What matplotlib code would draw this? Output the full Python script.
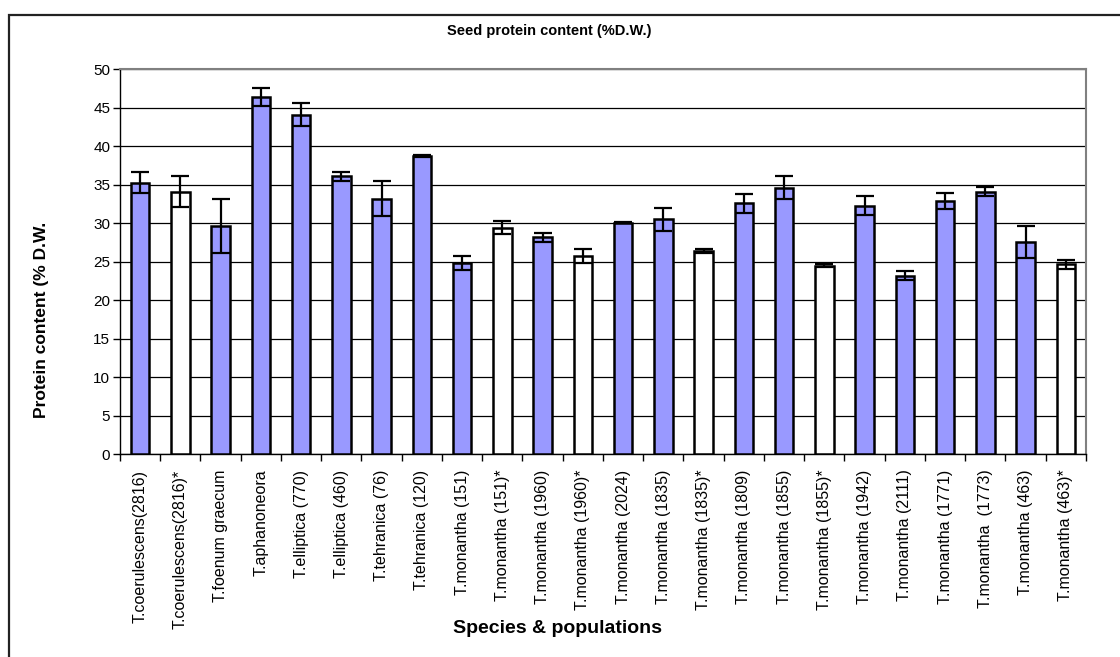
import matplotlib
matplotlib.use("Agg")
import matplotlib.pyplot as plt
from matplotlib.patches import Rectangle

plt.rcParams['font.family'] = ['Liberation Sans', 'DejaVu Sans']

labels = ["T.coerulescens(2816)", "T.coerulescens(2816)*", "T.foenum graecum",
          "T.aphanoneora", "T.elliptica (770)", "T.elliptica (460)",
          "T.tehranica (76)", "T.tehranica (120)", "T.monantha (151)",
          "T.monantha (151)*", "T.monantha (1960)", "T.monantha (1960)*",
          "T.monantha (2024)", "T.monantha (1835)", "T.monantha (1835)*",
          "T.monantha (1809)", "T.monantha (1855)", "T.monantha (1855)*",
          "T.monantha (1942)", "T.monantha (2111)", "T.monantha (1771)",
          "T.monantha  (1773)", "T.monantha (463)", "T.monantha (463)*"]
protein = [35.3, 34.1, 29.7, 46.4, 44.1, 36.1, 33.2, 38.7, 24.9, 29.4, 28.2, 25.8,
           30.1, 30.5, 26.4, 32.6, 34.6, 24.5, 32.3, 23.2, 32.9, 34.1, 27.6, 24.7]
stderr = [1.4, 2.0, 3.5, 1.2, 1.5, 0.6, 2.3, 0.15, 0.9, 0.85, 0.6, 0.9,
          0.1, 1.5, 0.3, 1.2, 1.5, 0.2, 1.2, 0.6, 1.1, 0.6, 2.1, 0.6]
yticks = list(range(0, 51, 5))

BLUE = "#9999FF"
colors = ["white" if lab.endswith("*") else BLUE for lab in labels]
x = list(range(len(labels)))

fig = plt.figure(figsize=(11.2, 6.57), dpi=100)
fig.patches.append(Rectangle((0.008, -0.2), 1.2, 0.977 + 0.2, transform=fig.transFigure,
                             fill=False, ec="#222222", lw=1.6, zorder=0))

ax = fig.add_axes([0.1071, 0.3085, 0.8625, 0.586])
ax.bar(x, protein, width=0.46, color=colors, edgecolor="black", linewidth=1.8, zorder=3)
ax.errorbar(x, protein, yerr=stderr, fmt="none", ecolor="black", elinewidth=1.6,
            capsize=6.8, capthick=1.6, zorder=4)

ax.set_xlim(-0.5, len(labels) - 0.5)
ax.set_ylim(0, 50)
ax.set_yticks(yticks)
ax.tick_params(axis="y", labelsize=11, length=5, width=1, direction="out", pad=2)
ax.yaxis.grid(True, color="black", lw=0.9, zorder=0)
ax.set_axisbelow(True)

ax.set_xticks(x)
ax.set_xticklabels(labels, rotation=90, fontsize=11.5, va="top", ha="center")
ax.tick_params(axis="x", length=0, pad=11)
ax.set_xticks([i + 0.5 for i in range(-1, len(labels))], minor=True)
ax.tick_params(axis="x", which="minor", length=5, width=1, direction="out")

for side in ("top", "right"):
    ax.spines[side].set_color("#808080")
    ax.spines[side].set_linewidth(1.5)
for side in ("left", "bottom"):
    ax.spines[side].set_color("black")
    ax.spines[side].set_linewidth(1.0)

fig.text(0.49, 0.953, "Seed protein content (%D.W.)", ha="center", va="center",
         fontsize=10.5, fontweight="bold")
fig.text(0.498, 0.044, "Species & populations", ha="center", va="center",
         fontsize=14, fontweight="bold")
fig.text(0.0375, 0.513, "Protein content (% D.W.", ha="center", va="center",
         rotation=90, fontsize=12.5, fontweight="bold")

fig.savefig("out.png", dpi=100)
